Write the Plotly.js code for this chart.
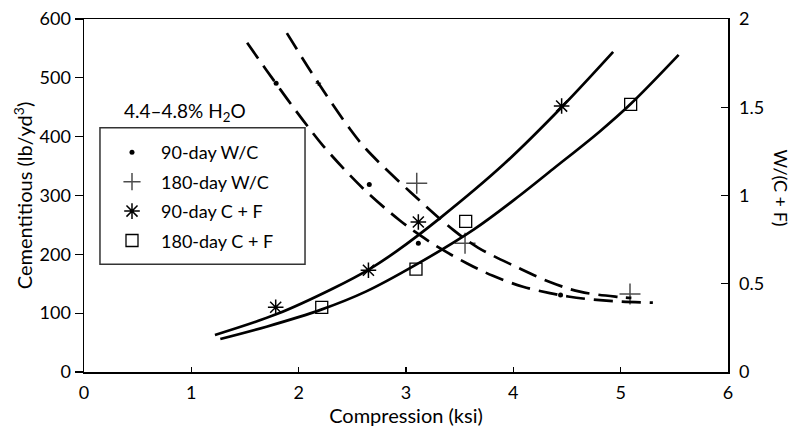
<!DOCTYPE html>
<html>
<head>
<meta charset="utf-8">
<script src="https://cdn.plot.ly/plotly-3.0.1.min.js"></script>
<style>html,body{margin:0;padding:0;background:#fff;}#chart{width:793px;height:430px;}</style>
</head>
<body>
<div id="chart"></div>
<script>
// Measured points
const cf90X = [1.786, 2.65, 3.115, 4.45];
const cf90Y = [110, 173, 255, 452];
const cf180X = [2.215, 3.093, 3.556, 5.093];
const cf180Y = [110, 175, 256, 455];
const wc90X = [1.79, 2.658, 3.115, 4.44];
const wc90Y = [1.636, 1.063, 0.729, 0.436];
const wc180X = [2.183, 3.10, 3.55, 5.087];
const wc180Y = [1.636, 1.069, 0.729, 0.442];

// Fitted curves
const fitCF90X = [1.22, 1.79, 2.32, 2.66, 2.91, 3.32, 3.91, 4.45, 4.93];
const fitCF90Y = [63, 98, 142, 175, 205, 262, 353, 450, 544];
const fitCF180X = [1.27, 1.7, 2.21, 2.63, 3.09, 3.63, 4.06, 4.37, 4.8, 5.09, 5.54];
const fitCF180Y = [56, 77, 106, 137, 182, 242, 300, 345, 408, 455, 539];
const fitWC90X = [1.52, 1.70, 1.83, 1.98, 2.08, 2.23, 2.60, 2.94, 3.13, 3.32, 3.57, 3.81, 4.09, 4.34, 4.51, 4.70, 4.97, 5.30];
const fitWC90Y = [1.865, 1.71, 1.60, 1.475, 1.395, 1.28, 1.04, 0.86, 0.775, 0.70, 0.615, 0.545, 0.483, 0.447, 0.428, 0.413, 0.40, 0.393];
const fitWC180X = [1.89, 2.18, 2.48, 2.63, 3.04, 3.44, 3.67, 4.03, 4.34, 4.62, 4.99, 5.10];
const fitWC180Y = [1.92, 1.64, 1.375, 1.262, 1.02, 0.805, 0.705, 0.595, 0.51, 0.455, 0.425, 0.42];

const xTicks = [0, 1, 2, 3, 4, 5, 6];
const yTicks = [0, 100, 200, 300, 400, 500, 600];
const y2Ticks = [0, 0.5, 1, 1.5, 2];
const y2TickText = ['0', '0.5', '1', '1.5', '2'];

const FONT = 'Lato, "Open Sans", sans-serif';
const lineS = {color: '#000', width: 2.7, shape: 'spline', smoothing: 1};
const lineD = {color: '#000', width: 2.7, shape: 'spline', smoothing: 1, dash: '19px,9px'};

const traces = [
  {x: fitCF90X, y: fitCF90Y, mode: 'lines', line: lineS, showlegend: false, hoverinfo: 'skip'},
  {x: fitCF180X, y: fitCF180Y, mode: 'lines', line: lineS, showlegend: false, hoverinfo: 'skip'},
  {x: fitWC90X, y: fitWC90Y, yaxis: 'y2', mode: 'lines', line: lineD, showlegend: false, hoverinfo: 'skip'},
  {x: fitWC180X, y: fitWC180Y, yaxis: 'y2', mode: 'lines', line: lineD, showlegend: false, hoverinfo: 'skip'},
  {x: wc90X, y: wc90Y, yaxis: 'y2', mode: 'markers', name: '90-day W/C', legendgroup: 'a',
   marker: {symbol: 'circle', size: 5, color: '#000'}},
  {x: wc180X, y: wc180Y, yaxis: 'y2', mode: 'markers', name: '180-day W/C', legendgroup: 'b',
   marker: {symbol: 'cross-thin-open', size: [4, 15, 15, 15], color: '#000', line: {color: '#000', width: 1.5}}},
  {x: cf90X, y: cf90Y, mode: 'markers', name: '90-day C + F', legendgroup: 'c',
   marker: {symbol: 'asterisk-open', size: 13, color: '#000', line: {color: '#000', width: 1.5}}},
  {x: cf180X, y: cf180Y, mode: 'markers', name: '180-day C + F', legendgroup: 'd',
   marker: {symbol: 'square-open', size: 12, color: '#000', line: {color: '#000', width: 1.3}}}
];

const layout = {
  width: 793, height: 430,
  margin: {l: 84, r: 65, t: 19, b: 58},
  paper_bgcolor: '#fff', plot_bgcolor: '#fff',
  font: {family: FONT, size: 18, color: '#000'},
  showlegend: true,
  legend: {
    x: 0.0295, y: 0.674, xanchor: 'left', yanchor: 'top',
    borderwidth: 0, bgcolor: 'rgba(255,255,255,0)',
    font: {family: FONT, size: 18, color: '#000'},
    traceorder: 'grouped', tracegroupgap: 3, itemwidth: 48
  },
  xaxis: {
    range: [0, 6], tickvals: xTicks, ticks: 'inside', ticklen: 5, tickwidth: 1.3, tickcolor: '#000',
    showline: true, linecolor: '#000', linewidth: 1.5, mirror: true, showgrid: false, zeroline: false,
    ticklabelstandoff: 4,
    title: {text: 'Compression (ksi)', standoff: 3, font: {family: FONT, size: 20, color: '#000'}},
    automargin: false, fixedrange: true
  },
  yaxis: {
    range: [0, 600], tickvals: yTicks, ticks: 'outside', ticklen: 8, tickwidth: 1.3, tickcolor: '#000',
    showline: true, linecolor: '#000', linewidth: 1.5, showgrid: false, zeroline: false,
    title: {text: 'Cementitious (lb/yd<sup>3</sup>)', standoff: 1, font: {family: FONT, size: 20, color: '#000'}},
    automargin: false, fixedrange: true
  },
  yaxis2: {
    overlaying: 'y', side: 'right', range: [0, 2], tickvals: y2Ticks, ticktext: y2TickText,
    ticks: 'inside', ticklen: 7, tickwidth: 1.3, tickcolor: '#000',
    showline: true, linecolor: '#000', linewidth: 1.5, showgrid: false, zeroline: false,
    ticklabelstandoff: 6, automargin: false, fixedrange: true
  },
  shapes: [
    {type: 'rect', xref: 'paper', yref: 'paper', x0: 0.0248, x1: 0.3432, y0: 0.305, y1: 0.692,
     line: {color: '#333', width: 1.5}, fillcolor: 'rgba(0,0,0,0)', layer: 'above'}
  ],
  annotations: [
    {xref: 'paper', yref: 'paper', x: 0.157, y: 0.7365, xanchor: 'center', yanchor: 'middle',
     text: '4.4–4.8% H<sub>2</sub>O', showarrow: false, font: {family: FONT, size: 19, color: '#000'}},
    {xref: 'paper', yref: 'paper', x: 1.0815, y: 0.521, xanchor: 'center', yanchor: 'middle',
     text: 'W/(C + F)', textangle: 90, showarrow: false, font: {family: FONT, size: 18, color: '#000'}}
  ]
};

Plotly.newPlot('chart', traces, layout, {staticPlot: true, displayModeBar: false});
</script>
</body>
</html>
